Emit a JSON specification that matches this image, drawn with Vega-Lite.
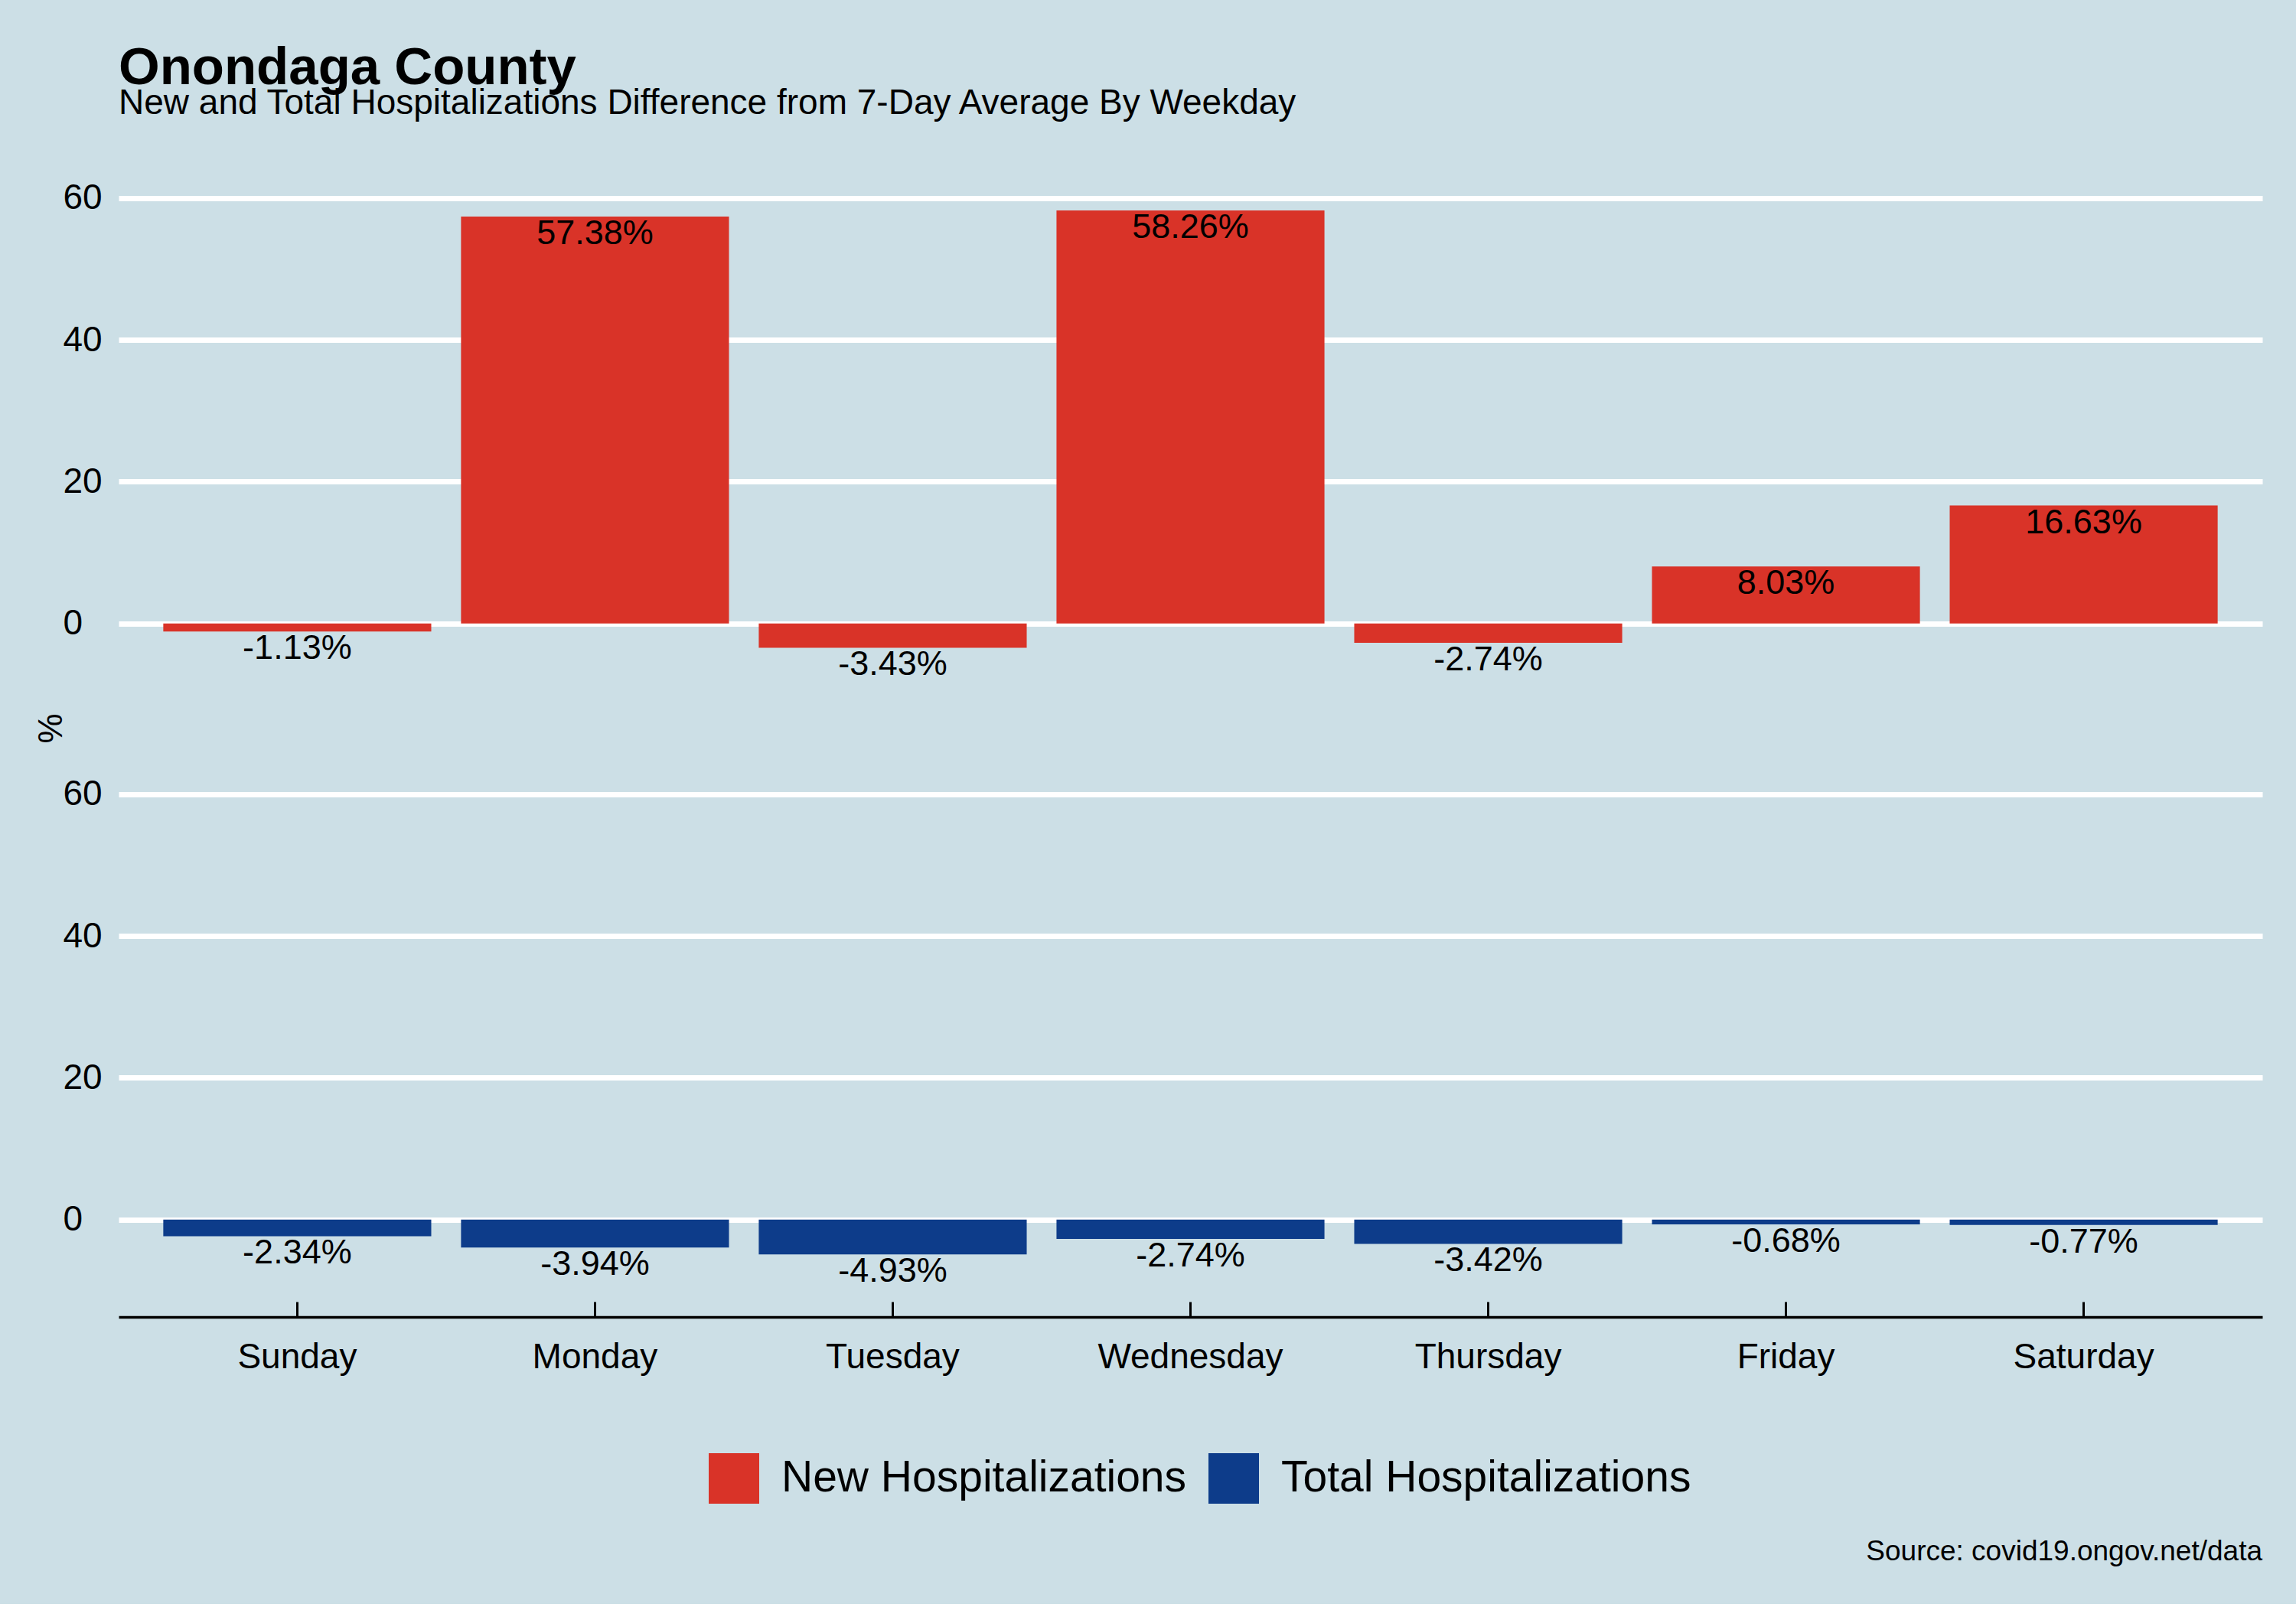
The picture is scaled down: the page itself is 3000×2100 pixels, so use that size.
{
  "$schema": "https://vega.github.io/schema/vega-lite/v6.json",
  "background": "#CCDFE6",
  "padding": {"left": 46, "top": 55, "right": 58, "bottom": 50},
  "data": {
    "values": [
      {"day": "Sunday", "type": "New Hospitalizations", "value": -1.13, "label": "-1.13%"},
      {"day": "Monday", "type": "New Hospitalizations", "value": 57.38, "label": "57.38%"},
      {"day": "Tuesday", "type": "New Hospitalizations", "value": -3.43, "label": "-3.43%"},
      {"day": "Wednesday", "type": "New Hospitalizations", "value": 58.26, "label": "58.26%"},
      {"day": "Thursday", "type": "New Hospitalizations", "value": -2.74, "label": "-2.74%"},
      {"day": "Friday", "type": "New Hospitalizations", "value": 8.03, "label": "8.03%"},
      {"day": "Saturday", "type": "New Hospitalizations", "value": 16.63, "label": "16.63%"},
      {"day": "Sunday", "type": "Total Hospitalizations", "value": -2.34, "label": "-2.34%"},
      {"day": "Monday", "type": "Total Hospitalizations", "value": -3.94, "label": "-3.94%"},
      {"day": "Tuesday", "type": "Total Hospitalizations", "value": -4.93, "label": "-4.93%"},
      {"day": "Wednesday", "type": "Total Hospitalizations", "value": -2.74, "label": "-2.74%"},
      {"day": "Thursday", "type": "Total Hospitalizations", "value": -3.42, "label": "-3.42%"},
      {"day": "Friday", "type": "Total Hospitalizations", "value": -0.68, "label": "-0.68%"},
      {"day": "Saturday", "type": "Total Hospitalizations", "value": -0.77, "label": "-0.77%"}
    ]
  },
  "title": {
    "text": "Source: covid19.ongov.net/data",
    "orient": "bottom",
    "anchor": "end",
    "frame": "bounds",
    "fontSize": 37,
    "fontWeight": "normal",
    "offset": 45,
    "color": "black",
    "font": "Liberation Sans"
  },
  "vconcat": [
    {
      "title": {
        "text": "Onondaga County",
        "subtitle": "New and Total Hospitalizations Difference from 7-Day Average By Weekday",
        "anchor": "start",
        "frame": "group",
        "fontSize": 69,
        "fontWeight": "bold",
        "subtitleFontSize": 46,
        "offset": 25,
        "subtitlePadding": -11
      },
      "facet": {
        "row": {
          "field": "type",
          "type": "nominal",
          "title": "%",
          "sort": ["New Hospitalizations", "Total Hospitalizations"],
          "header": {
            "labels": false,
            "titleFontSize": 44,
            "titleFont": "Liberation Sans",
            "titleFontWeight": "normal",
            "titleColor": "black",
            "titlePadding": -18
          }
        }
      },
      "spacing": 20,
      "spec": {
        "width": 2801,
        "height": 759,
        "layer": [
          {
            "mark": {"type": "bar"},
            "encoding": {
              "x": {
                "field": "day",
                "type": "nominal",
                "sort": ["Sunday", "Monday", "Tuesday", "Wednesday", "Thursday", "Friday", "Saturday"],
                "scale": {"paddingInner": 0.1, "paddingOuter": 0.15},
                "axis": {"title": null}
              },
              "y": {
                "field": "value",
                "type": "quantitative",
                "scale": {"domain": [-13.74, 68.18], "nice": false, "zero": false},
                "axis": {"values": [0, 20, 40, 60], "title": null}
              },
              "color": {
                "field": "type",
                "type": "nominal",
                "scale": {
                  "domain": ["New Hospitalizations", "Total Hospitalizations"],
                  "range": ["#D93328", "#0D3C8A"]
                },
                "legend": {
                  "orient": "none",
                  "legendX": 771,
                  "legendY": 1716,
                  "direction": "horizontal",
                  "title": null,
                  "symbolType": "square",
                  "symbolSize": 4356,
                  "symbolStrokeWidth": 0,
                  "labelFontSize": 57,
                  "labelOffset": 29,
                  "columnPadding": 28,
                  "labelColor": "black",
                  "labelFont": "Liberation Sans",
                  "labelLimit": 1000
                }
              }
            }
          },
          {
            "mark": {"type": "text", "baseline": "top", "fontSize": 45, "font": "Liberation Sans", "color": "black"},
            "encoding": {
              "x": {
                "field": "day",
                "type": "nominal",
                "sort": ["Sunday", "Monday", "Tuesday", "Wednesday", "Thursday", "Friday", "Saturday"]
              },
              "y": {"field": "value", "type": "quantitative"},
              "text": {"field": "label", "type": "nominal"}
            }
          }
        ]
      }
    }
  ],
  "config": {
    "font": "Liberation Sans",
    "view": {"stroke": null},
    "axis": {
      "labelFont": "Liberation Sans",
      "titleFont": "Liberation Sans",
      "labelColor": "black",
      "titleColor": "black",
      "labelFontSize": 46,
      "titleFontSize": 44,
      "titleFontWeight": "normal"
    },
    "axisX": {
      "domainColor": "black",
      "domainWidth": 3.5,
      "tickColor": "black",
      "tickWidth": 3,
      "tickSize": -20,
      "labelPadding": 50,
      "labelLimit": 1000,
      "grid": false,
      "labelAngle": 0
    },
    "axisY": {
      "domain": false,
      "ticks": false,
      "grid": true,
      "gridColor": "white",
      "gridWidth": 7,
      "labelAlign": "left",
      "labelPadding": 73
    },
    "title": {
      "color": "black",
      "subtitleColor": "black",
      "font": "Liberation Sans",
      "subtitleFont": "Liberation Sans"
    }
  }
}
